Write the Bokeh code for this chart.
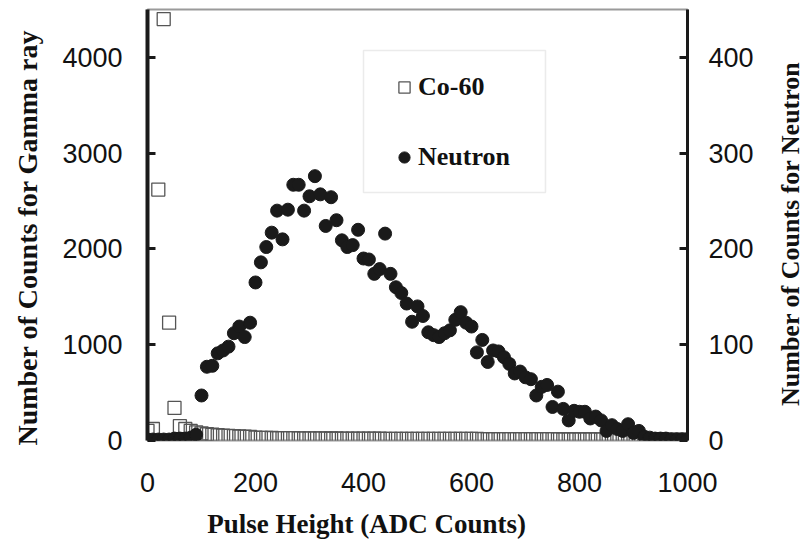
import math
from bokeh.plotting import figure
from bokeh.models import (Range1d, LinearAxis, Legend, LegendItem, Label,
                          BoxAnnotation, FixedTicker, ColumnDataSource)
from bokeh.embed import file_html
from bokeh.resources import INLINE

# ---------------- data ----------------
pulse_height = list(range(0, 1001, 10))

gamma_counts = [
    100, 120, 2620, 4400, 1230, 340, 150, 120, 100, 85,
    75, 65, 60, 55, 50, 48, 45, 42, 40, 38,
    30, 28, 27, 26, 25, 25, 24, 24, 23, 23,
    22, 22, 22, 21, 21, 21, 20, 20, 20, 20,
    19, 19, 19, 19, 18, 18, 18, 18, 18, 18,
    17, 17, 17, 17, 17, 17, 16, 16, 16, 16,
    16, 16, 15, 15, 15, 15, 15, 15, 15, 14,
    14, 14, 14, 14, 14, 14, 13, 13, 13, 13,
    13, 13, 13, 12, 12, 12, 12, 12, 12, 12,
    11, 11, 11, 11, 11, 11, 10, 10, 10, 10, 10,
]

neutron_counts = [
    1, 1, 1, 1, 1, 2, 2, 2, 3, 6,
    47, 77, 78, 91, 94, 98, 112, 119, 108, 123,
    165, 186, 202, 217, 240, 210, 241, 267, 267, 240,
    255, 276, 257, 224, 254, 230, 209, 202, 204, 220,
    190, 189, 174, 179, 216, 174, 160, 154, 143, 124,
    140, 130, 113, 110, 108, 112, 115, 126, 134, 123,
    119, 92, 105, 82, 94, 93, 87, 80, 70, 72,
    66, 64, 47, 56, 58, 35, 51, 33, 21, 31,
    30, 30, 23, 25, 21, 10, 16, 12, 10, 17,
    8, 10, 4, 3, 2, 2, 2, 1, 1, 1, 1,
]

gamma_ticks = [0, 1000, 2000, 3000, 4000]
neutron_ticks = [0, 100, 200, 300, 400]
x_ticks = [0, 200, 400, 600, 800, 1000]

x_title = "Pulse Height (ADC Counts)"
left_title = "Number of Counts for Gamma ray"
right_title = "Number of Counts for Neutron"
series_names = ["Co-60", "Neutron"]

src = ColumnDataSource(data=dict(x=pulse_height, g=gamma_counts, n=neutron_counts))

# ---------------- figure ----------------
p = figure(width=805, height=541, output_backend="svg", toolbar_location=None,
           title=None,
           x_range=Range1d(0, 1000), y_range=Range1d(0, 4500),
           min_border_left=147, min_border_right=118,
           min_border_top=9, min_border_bottom=101)
p.extra_y_ranges = {"n": Range1d(0, 450)}
p.xgrid.visible = False
p.ygrid.visible = False
p.outline_line_color = "#9a9a9a"
p.outline_line_width = 2
p.background_fill_color = "white"
p.border_fill_color = "white"

tick_font = "Liberation Sans"
title_font = "Liberation Serif"
ink = "#111111"

# x axis
xa = p.xaxis[0]
xa.ticker = FixedTicker(ticks=x_ticks)
xa.axis_line_color = None
xa.major_tick_in = 0
xa.major_tick_out = 0
xa.minor_tick_line_color = None
xa.major_label_standoff = 32
xa.major_label_text_font = tick_font
xa.major_label_text_font_size = "27px"
xa.major_label_text_color = ink

# left axis
ya = p.yaxis[0]
ya.ticker = FixedTicker(ticks=gamma_ticks)
ya.axis_line_color = "#1a1a1a"
ya.axis_line_width = 4
ya.major_tick_in = 8
ya.major_tick_out = 0
ya.major_tick_line_width = 3
ya.major_tick_line_color = "#1a1a1a"
ya.minor_tick_line_color = None
ya.major_label_standoff = 25
ya.major_label_text_font = tick_font
ya.major_label_text_font_size = "27px"
ya.major_label_text_color = ink

# right axis
ra = LinearAxis(y_range_name="n", ticker=FixedTicker(ticks=neutron_ticks))
ra.axis_line_color = "#1a1a1a"
ra.axis_line_width = 3
ra.major_tick_in = 8
ra.major_tick_out = 0
ra.major_tick_line_width = 3
ra.major_tick_line_color = "#1a1a1a"
ra.minor_tick_line_color = None
ra.major_label_standoff = 21
ra.major_label_text_font = tick_font
ra.major_label_text_font_size = "27px"
ra.major_label_text_color = ink
p.add_layout(ra, "right")

# ---------------- axis titles (labels in the side panels, not clipped) ----
title_style = dict(text_font=title_font, text_font_style="bold",
                   text_color=ink, text_align="center", text_baseline="middle")
p.add_layout(Label(x=-222, y=2119, text=left_title, angle=math.pi / 2,
                   text_font_size="28px", **title_style), "left")
p.add_layout(Label(x=1190, y=2160, text=right_title, angle=math.pi / 2,
                   text_font_size="26px", **title_style), "right")
p.add_layout(Label(x=405.6, y=-877, text=x_title,
                   text_font_size="27px", **title_style), "below")

# ---------------- glyphs ----------------
sq = p.scatter(x="x", y="g", source=src, marker="square", size=13,
               fill_color=None, line_color="#555555", line_width=1.3)
ci = p.scatter(x="x", y="n", source=src, y_range_name="n", marker="circle",
               size=13, fill_color="#1a1a1a", line_color="#1a1a1a")

# ---------------- legend ----------------
box = BoxAnnotation(left=400, right=737, top=4072, bottom=2589,
                    fill_alpha=0, line_color="#bdbdbd", line_width=1.5)
p.add_layout(box)

legend = Legend(items=[LegendItem(label=series_names[0], renderers=[sq]),
                       LegendItem(label=series_names[1], renderers=[ci])],
                location=(243, 268), orientation="vertical",
                glyph_width=28, glyph_height=30, label_height=30,
                spacing=40, padding=0, margin=0, label_standoff=0,
                border_line_color=None, background_fill_alpha=0,
                label_text_font=title_font, label_text_font_style="bold",
                label_text_font_size="26px", label_text_color=ink)
p.add_layout(legend, "center")

open("out.html", "w").write(file_html(p, INLINE))
